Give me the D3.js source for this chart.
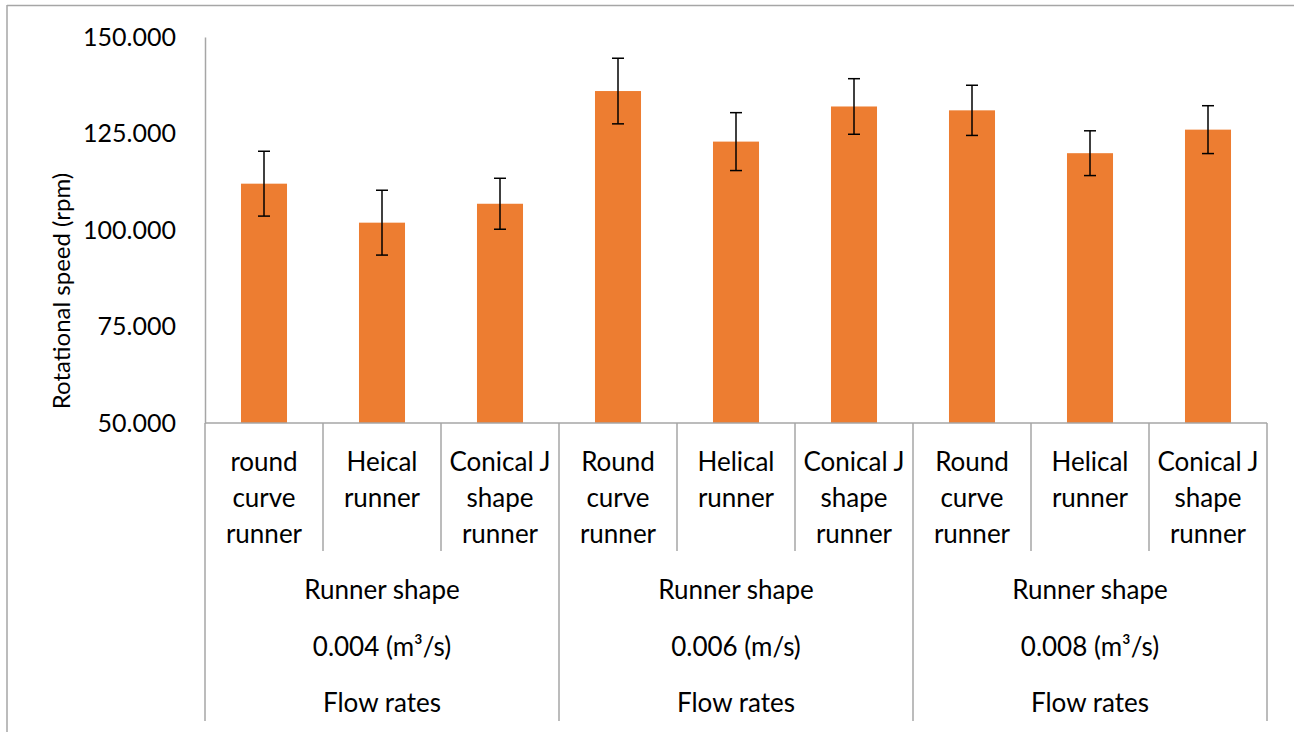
<!DOCTYPE html>
<html>
<head>
<meta charset="utf-8">
<script src="https://cdn.jsdelivr.net/npm/d3@7"></script>
<style>
  body { margin: 0; background: #fff; }
  text { font-family: Lato, "Open Sans", sans-serif; fill: #000; }
</style>
</head>
<body>
<svg width="1294" height="732"></svg>
<script>
const categories = [
  ["round", "curve", "runner"],
  ["Heical", "runner"],
  ["Conical J", "shape", "runner"],
  ["Round", "curve", "runner"],
  ["Helical", "runner"],
  ["Conical J", "shape", "runner"],
  ["Round", "curve", "runner"],
  ["Helical", "runner"],
  ["Conical J", "shape", "runner"]
];
const speeds = [112.0, 101.9, 106.8, 136.0, 122.9, 132.0, 131.0, 119.9, 126.0];
const errors = [8.4, 8.4, 6.6, 8.5, 7.5, 7.2, 6.5, 5.8, 6.2];
const flowRates = ["0.004 (m³/s)", "0.006 (m/s)", "0.008 (m³/s)"];
const groupLines = ["Runner shape", null, "Flow rates"];
const yTicks = [50, 75, 100, 125, 150];

const svg = d3.select("svg");
const margin = { top: 37, left: 205, right: 27, bottom: 308 };
const width = 1294 - margin.left - margin.right;
const height = 732 - margin.top - margin.bottom - 1;

// outer frame (top and left edges visible)
svg.append("line").attr("x1", 7).attr("x2", 1294).attr("y1", 5.5).attr("y2", 5.5)
  .attr("stroke", "#a6a6a6").attr("stroke-width", 1.5);
svg.append("line").attr("x1", 7).attr("x2", 7).attr("y1", 5).attr("y2", 732)
  .attr("stroke", "#a6a6a6").attr("stroke-width", 1.5);

const g = svg.append("g").attr("transform", `translate(${margin.left},${margin.top})`);

const idx = d3.range(categories.length);
const x = d3.scaleBand().domain(idx).range([0, width]).padding(0);
const y = d3.scaleLinear().domain([50, 150]).range([height, 0]);
const barW = x.bandwidth() * 0.39;

// y axis
const yAxis = g.append("g")
  .call(d3.axisLeft(y).tickValues(yTicks).tickSize(0).tickPadding(29).tickFormat(d3.format(".3f")));
yAxis.select(".domain").attr("stroke", "#a6a6a6").attr("stroke-width", 1.5);
yAxis.selectAll("text").attr("font-size", 25).attr("font-family", "Lato");

g.append("text")
  .attr("transform", `translate(${-145},${254}) rotate(-90)`)
  .attr("text-anchor", "middle")
  .attr("dominant-baseline", "central")
  .attr("font-size", 24)
  .text("Rotational speed (rpm)");

// bars
g.selectAll(".bar").data(idx).enter().append("rect")
  .attr("class", "bar")
  .attr("x", i => x(i) + (x.bandwidth() - barW) / 2)
  .attr("width", barW)
  .attr("y", i => y(speeds[i]))
  .attr("height", i => height - y(speeds[i]))
  .attr("fill", "#ed7d31");

// error bars
const err = g.selectAll(".err").data(idx).enter().append("g").attr("class", "err")
  .attr("stroke", "#000").attr("stroke-width", 1.5);
err.append("line")
  .attr("x1", i => x(i) + x.bandwidth() / 2).attr("x2", i => x(i) + x.bandwidth() / 2)
  .attr("y1", i => y(speeds[i] + errors[i])).attr("y2", i => y(speeds[i] - errors[i]));
err.append("line")
  .attr("x1", i => x(i) + x.bandwidth() / 2 - 6).attr("x2", i => x(i) + x.bandwidth() / 2 + 6)
  .attr("y1", i => y(speeds[i] + errors[i])).attr("y2", i => y(speeds[i] + errors[i]));
err.append("line")
  .attr("x1", i => x(i) + x.bandwidth() / 2 - 6).attr("x2", i => x(i) + x.bandwidth() / 2 + 6)
  .attr("y1", i => y(speeds[i] - errors[i])).attr("y2", i => y(speeds[i] - errors[i]));

// category axis
const axisColor = "#a6a6a6";
g.append("line").attr("x1", 0).attr("x2", width).attr("y1", height).attr("y2", height)
  .attr("stroke", axisColor).attr("stroke-width", 1.5);

const innerBottom = height + 128;
const outerBottom = height + 298;
const boundaries = d3.range(categories.length + 1);
g.selectAll(".sep").data(boundaries).enter().append("line")
  .attr("class", "sep")
  .attr("x1", i => i === categories.length ? width : x(i))
  .attr("x2", i => i === categories.length ? width : x(i))
  .attr("y1", height)
  .attr("y2", i => i % 3 === 0 ? outerBottom : innerBottom)
  .attr("stroke", axisColor).attr("stroke-width", 1.5);

const catLabels = g.selectAll(".cat").data(idx).enter().append("text")
  .attr("class", "cat")
  .attr("text-anchor", "middle")
  .attr("font-size", 26);
catLabels.selectAll("tspan").data(i => categories[i].map(t => ({ i, t }))).enter().append("tspan")
  .attr("x", d => x(d.i) + x.bandwidth() / 2)
  .attr("y", (d, k) => height + 38 + k * 36)
  .attr("dominant-baseline", "central")
  .text(d => d.t);

// group labels
const groupW = x.bandwidth() * 3;
flowRates.forEach((fr, gi) => {
  const cx = x(gi * 3) + groupW / 2;
  groupLines.forEach((t, k) => {
    g.append("text")
      .attr("x", cx)
      .attr("y", height + 166 + k * 56.5)
      .attr("text-anchor", "middle")
      .attr("dominant-baseline", "central")
      .attr("font-size", 26)
      .text(t === null ? fr : t);
  });
});
</script>
</body>
</html>
